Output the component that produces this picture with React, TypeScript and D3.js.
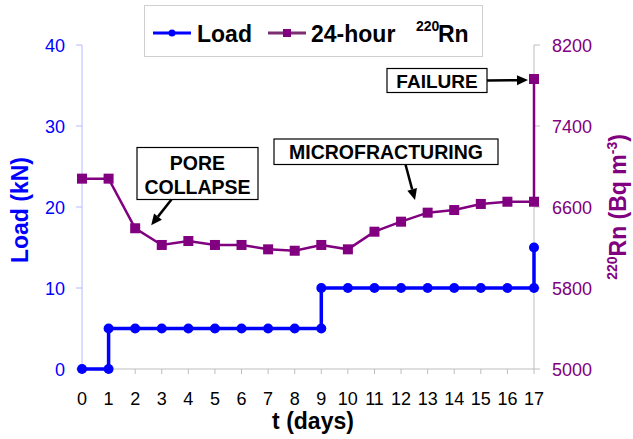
import React from "react";
import * as d3 from "d3";

const W = 633;
const H = 439;

const dayTicks = d3.range(0, 18);
const loadTicks = [0, 10, 20, 30, 40];
const rnTicks = [5000, 5800, 6600, 7400, 8200];

// Load series (step changes shown as repeated days)
const loadT = [0, 1, 1, 2, 3, 4, 5, 6, 7, 8, 9, 9, 10, 11, 12, 13, 14, 15, 16, 17, 17];
const loadKN = [0, 0, 5, 5, 5, 5, 5, 5, 5, 5, 5, 10, 10, 10, 10, 10, 10, 10, 10, 10, 15];

// 24-hour 220Rn series
const rnT = [0, 1, 2, 3, 4, 5, 6, 7, 8, 9, 10, 11, 12, 13, 14, 15, 16, 17, 17];
const rnBq = [6880, 6880, 6390, 6225, 6264, 6225, 6225, 6182, 6168, 6225, 6182, 6356, 6455, 6544, 6570, 6630, 6652, 6652, 7864];

const BLUE = "#0000ff";
const PURPLE = "#800080";
const FONT = "'Liberation Sans', Arial, sans-serif";

export default function App() {
  const x = d3.scaleLinear().domain([0, 17]).range([82, 534]);
  const yL = d3.scaleLinear().domain([0, 40]).range([369, 45]);
  const yR = d3.scaleLinear().domain([5000, 8200]).range([369, 45]);

  const loadPts = loadT.map((t, i) => [x(t), yL(loadKN[i])] as [number, number]);
  const rnPts = rnT.map((t, i) => [x(t), yR(rnBq[i])] as [number, number]);
  const line = d3.line();

  const arrow = (x1: number, y1: number, x2: number, y2: number, key: string) => {
    const ang = Math.atan2(y2 - y1, x2 - x1);
    const len = 11, half = 5;
    const bx = x2 - len * Math.cos(ang), by = y2 - len * Math.sin(ang);
    const px = -Math.sin(ang) * half, py = Math.cos(ang) * half;
    return (
      <g key={key}>
        <line x1={x1} y1={y1} x2={bx} y2={by} stroke="#000" strokeWidth={2.5} />
        <polygon points={`${x2},${y2} ${bx + px},${by + py} ${bx - px},${by - py}`} fill="#000" />
      </g>
    );
  };

  return (
    <svg width={W} height={H} style={{ position: "absolute", left: 0, top: 0, background: "#fff" }} fontFamily={FONT}>
      {/* bottom axis */}
      <line x1={x(0)} x2={x(17)} y1={369} y2={369} stroke="#bdbdbd" strokeWidth={1} />
      {dayTicks.map((d) => (
        <g key={"xt" + d}>
          <line x1={x(d)} x2={x(d)} y1={369} y2={374} stroke="#bdbdbd" />
          <text x={x(d)} y={405} textAnchor="middle" fontSize={18} fill="#000">{d}</text>
        </g>
      ))}
      <text x={313} y={429} textAnchor="middle" fontSize={23} fontWeight="bold" fill="#000">t (days)</text>

      {/* left axis */}
      <line x1={82} x2={82} y1={yL(40)} y2={yL(0)} stroke="#b8b8ff" strokeWidth={1} />
      {loadTicks.map((v) => (
        <g key={"yl" + v}>
          <line x1={76} x2={82} y1={yL(v)} y2={yL(v)} stroke="#b8b8ff" />
          <text x={65} y={yL(v) + 6.5} textAnchor="end" fontSize={18} fill={BLUE}>{v}</text>
        </g>
      ))}
      <text transform={`translate(28,210) rotate(-90)`} textAnchor="middle" fontSize={23} fontWeight="bold" fill={BLUE}>Load (kN)</text>

      {/* right axis */}
      <line x1={534} x2={534} y1={yR(8200)} y2={yR(5000)} stroke="#bdbdbd" strokeWidth={1} />
      {rnTicks.map((v) => (
        <g key={"yr" + v}>
          <line x1={534} x2={540} y1={yR(v)} y2={yR(v)} stroke="#bdbdbd" />
          <text x={552} y={yR(v) + 6.5} textAnchor="start" fontSize={18} fill={PURPLE}>{v}</text>
        </g>
      ))}
      <text transform={`translate(626,207) rotate(-90)`} textAnchor="middle" fontSize={23} fontWeight="bold" fill={PURPLE}>
        <tspan fontSize={14} dy={-9}>220</tspan>
        <tspan dy={9}>Rn (Bq m</tspan>
        <tspan fontSize={14} dy={-9}>-3</tspan>
        <tspan dy={9}>)</tspan>
      </text>

      {/* series */}
      <path d={line(rnPts) || ""} fill="none" stroke={PURPLE} strokeWidth={2.5} />
      {rnPts.map((p, i) => (
        <rect key={"rn" + i} x={p[0] - 5} y={p[1] - 5} width={10} height={10} fill={PURPLE} />
      ))}
      <path d={line(loadPts) || ""} fill="none" stroke={BLUE} strokeWidth={3.5} />
      {loadPts.map((p, i) => (
        <circle key={"ld" + i} cx={p[0]} cy={p[1]} r={5} fill={BLUE} />
      ))}

      {/* annotations */}
      <rect x={137} y={147.5} width={121} height={52} fill="#fff" stroke="#000" strokeWidth={1.2} />
      <text x={197.5} y={170} textAnchor="middle" fontSize={19.5} fontWeight="bold">PORE</text>
      <text x={197.5} y={194} textAnchor="middle" fontSize={19.5} fontWeight="bold">COLLAPSE</text>
      {arrow(171.5, 199.5, x(2) + 16, yR(rnBq[2]) - 3, "a1")}

      <rect x={274} y={139} width={224} height={25.5} fill="#fff" stroke="#000" strokeWidth={1.2} />
      <text x={386} y={158.5} textAnchor="middle" fontSize={19.5} fontWeight="bold">MICROFRACTURING</text>
      {arrow(405.5, 164.5, 415, 200, "a2")}

      <rect x={387} y={68.5} width={100} height={24} fill="#fff" stroke="#000" strokeWidth={1.2} />
      <text x={437} y={87.5} textAnchor="middle" fontSize={19} fontWeight="bold">FAILURE</text>
      {arrow(487, 80.5, x(17) - 6, yR(rnBq[18]) + 1, "a3")}

      {/* legend */}
      <rect x={144.5} y={5.5} width={338} height={51} fill="#fff" stroke="#cfcfcf" strokeWidth={1} />
      <line x1={153} x2={191} y1={33} y2={33} stroke={BLUE} strokeWidth={3} />
      <circle cx={172} cy={33} r={3.5} fill={BLUE} />
      <text x={197} y={41.5} fontSize={23} fontWeight="bold">Load</text>
      <line x1={268} x2={306} y1={33} y2={33} stroke="#7b2f72" strokeWidth={3} />
      <rect x={283} y={29} width={8} height={8} fill={PURPLE} />
      <text x={311} y={41.5} fontSize={23} fontWeight="bold">24-hour</text>
      <text x={416} y={31} fontSize={14} fontWeight="bold">220</text>
      <text x={438} y={41.5} fontSize={23} fontWeight="bold">Rn</text>
    </svg>
  );
}
